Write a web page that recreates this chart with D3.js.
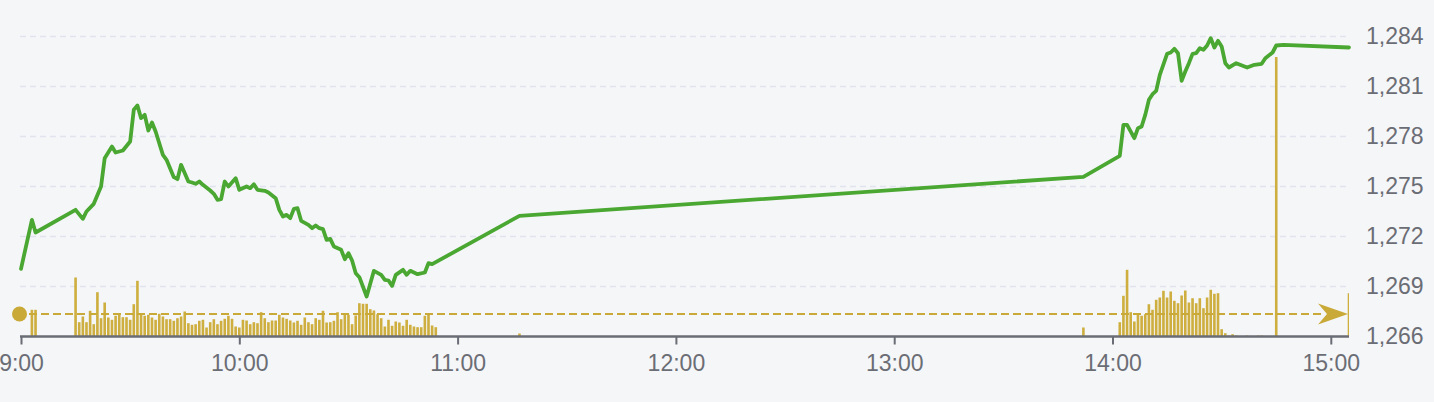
<!DOCTYPE html>
<html>
<head>
<meta charset="utf-8">
<script src="https://cdn.jsdelivr.net/npm/d3@7"></script>
<style>
  html, body { margin: 0; padding: 0; background: #f5f6f8; }
  svg { display: block; }
  text { font-family: "Liberation Sans", Arial, Helvetica, sans-serif; }
</style>
</head>
<body>
<svg id="chart" width="1434" height="402"></svg>
<script>
// ---------------- data ----------------
const priceTimes = [
  "09:00","09:03","09:04","09:15","09:17","09:18","09:20","09:22","09:23","09:25",
  "09:26","09:28","09:30","09:31","09:32","09:33","09:34","09:35","09:36","09:37",
  "09:39","09:40","09:42","09:43","09:44","09:46","09:47","09:48","09:49","09:50",
  "09:52","09:53","09:54","09:55","09:56","09:57","09:59","10:00","10:02","10:03",
  "10:04","10:05","10:07","10:08","10:10","10:11","10:12","10:13","10:14","10:15",
  "10:16","10:17","10:19","10:20","10:21","10:22","10:23","10:24","10:25","10:26",
  "10:28","10:29","10:30","10:31","10:32","10:33","10:35","10:37","10:39","10:40",
  "10:41","10:42","10:43","10:45","10:46","10:47","10:49","10:51","10:52","10:53",
  "11:17","13:52","14:02","14:03","14:04","14:06","14:07","14:08","14:09","14:10",
  "14:11","14:12","14:13","14:15","14:16","14:17","14:18","14:19","14:20","14:21",
  "14:22","14:23","14:24","14:25","14:26","14:27","14:28","14:29","14:30","14:31",
  "14:32","14:34","14:37","14:39","14:41","14:42","14:44","14:45","14:47","15:05"
];
const priceValues = [
  1270.06,1273.00,1272.24,1273.60,1273.06,1273.50,1273.96,1275.00,1276.70,1277.40,
  1277.04,1277.16,1277.70,1279.60,1279.86,1279.10,1279.30,1278.36,1278.84,1278.30,
  1276.90,1276.60,1275.56,1275.44,1276.30,1275.30,1275.24,1275.16,1275.30,1275.10,
  1274.76,1274.56,1274.20,1274.24,1275.30,1275.00,1275.50,1274.80,1275.00,1274.90,
  1275.14,1274.80,1274.74,1274.64,1274.30,1273.60,1273.20,1273.30,1273.10,1273.66,
  1273.70,1272.94,1272.70,1272.50,1272.66,1272.50,1272.44,1271.80,1271.86,1271.40,
  1271.20,1270.64,1271.00,1270.56,1269.80,1269.56,1268.40,1269.94,1269.70,1269.40,
  1269.36,1269.04,1269.70,1270.00,1269.70,1269.94,1269.74,1269.84,1270.40,1270.34,
  1273.24,1275.58,1276.84,1278.70,1278.70,1277.90,1278.50,1278.60,1279.30,1280.20,
  1280.54,1280.74,1281.70,1282.96,1283.04,1283.26,1283.00,1281.34,1281.90,1282.40,
  1282.96,1283.00,1283.30,1283.20,1283.46,1283.90,1283.34,1283.74,1283.40,1282.40,
  1282.14,1282.40,1282.14,1282.30,1282.36,1282.70,1283.04,1283.46,1283.50,1283.34
];

const volumeTimes = [
  "09:03","09:04",
  "09:15","09:16","09:17","09:18","09:19","09:20","09:21","09:22","09:23","09:24",
  "09:25","09:26","09:27","09:28","09:29","09:30","09:31","09:32","09:33","09:34",
  "09:35","09:36","09:37","09:38","09:39","09:40","09:41","09:42","09:43","09:44",
  "09:45","09:46","09:47","09:48","09:49","09:50","09:51","09:52","09:53","09:54",
  "09:55","09:56","09:57","09:58","09:59","10:00","10:01","10:02","10:03","10:04",
  "10:05","10:06","10:07","10:08","10:09","10:10","10:11","10:12","10:13","10:14",
  "10:15","10:16","10:17","10:18","10:19","10:20","10:21","10:22","10:23","10:24",
  "10:25","10:26","10:27","10:28","10:29","10:30","10:31","10:32","10:33","10:34",
  "10:35","10:36","10:37","10:38","10:39","10:40","10:41","10:42","10:43","10:44",
  "10:45","10:46","10:47","10:48","10:49","10:50","10:51","10:52","10:53","10:54",
  "11:17","13:52",
  "14:02","14:03","14:04","14:05","14:06","14:07","14:08","14:09","14:10","14:11",
  "14:12","14:13","14:14","14:15","14:16","14:17","14:18","14:19","14:20","14:21",
  "14:22","14:23","14:24","14:25","14:26","14:27","14:28","14:29","14:30","14:31",
  "14:32","14:33","14:34","14:37","14:40","14:41","14:45","15:05"
];
const volumeValues = [
  267,267,
  590,143,200,143,257,123,443,183,340,190,
  167,207,223,193,193,167,323,557,223,207,
  217,190,167,227,200,173,173,157,183,200,
  250,133,117,123,157,167,90,143,173,123,
  157,177,207,177,100,90,167,160,123,143,
  133,243,183,143,160,160,217,190,177,160,
  140,157,117,190,143,123,183,167,257,140,
  143,157,243,173,217,217,123,210,333,327,
  327,273,260,223,183,100,167,107,150,140,
  107,167,117,100,93,93,207,217,110,93,
  30,90,
  143,407,667,243,150,227,207,223,323,267,
  367,390,457,390,450,357,333,410,460,340,
  383,333,383,283,390,467,427,433,73,33,
  10,23,10,10,10,10,2795,433
];
const averageVolume = 225;

const xTickLabels = ["9:00","10:00","11:00","12:00","13:00","14:00","15:00"];
const yTickValues = [1266,1269,1272,1275,1278,1281,1284];

// ---------------- chart ----------------
const W = 1434, H = 402;
const plotLeft = 21, plotRight = 1349, plotTop = 36.5, plotBottom = 336.5;

const parse = d3.timeParse("%H:%M");
const svg = d3.select("#chart");
svg.append("rect").attr("width", W).attr("height", H).attr("fill", "#f5f6f8");

const x = d3.scaleTime()
  .domain([parse("09:00"), parse("15:05")])
  .range([plotLeft, plotRight]);
const y = d3.scaleLinear()
  .domain([d3.min(yTickValues), d3.max(yTickValues)])
  .range([plotBottom, plotTop]);
const v = d3.scaleLinear()
  .domain([0, 2800])
  .range([plotBottom, plotBottom - 280]);

svg.append("defs").append("clipPath").attr("id", "plotclip")
  .append("rect").attr("x", plotLeft - 2).attr("y", 0)
  .attr("width", plotRight - plotLeft + 2).attr("height", plotBottom);

// grid lines
svg.append("g").selectAll("line")
  .data(yTickValues.filter(d => d !== d3.min(yTickValues)))
  .join("line")
  .attr("x1", plotLeft - 1).attr("x2", plotRight)
  .attr("y1", d => y(d)).attr("y2", d => y(d))
  .attr("stroke", "#e1e4ed").attr("stroke-width", 1.5)
  .attr("stroke-dasharray", "6,4");

// volume bars
const vol = volumeTimes.map((t, i) => ({ t: parse(t), v: volumeValues[i] }));
const bw = 2.6;
svg.append("g").attr("clip-path", "url(#plotclip)")
  .selectAll("rect").data(vol).join("rect")
  .attr("x", d => x(d.t) - bw / 2)
  .attr("y", d => v(d.v))
  .attr("width", bw)
  .attr("height", d => plotBottom - v(d.v))
  .attr("fill", "#cdae3e");

// average volume dashed line with circle and arrow
const gold = "#c9a937";
const ay = v(averageVolume);
svg.append("line")
  .attr("x1", plotLeft + 8).attr("x2", plotRight - 24)
  .attr("y1", ay).attr("y2", ay)
  .attr("stroke", gold).attr("stroke-width", 2)
  .attr("stroke-dasharray", "8,4");
svg.append("circle").attr("cx", plotLeft - 1.5).attr("cy", ay).attr("r", 7.5).attr("fill", gold);
svg.append("path")
  .attr("d", `M${plotRight - 1},${ay} L${plotRight - 31},${ay - 10.5} L${plotRight - 22},${ay} L${plotRight - 31},${ay + 10.5} Z`)
  .attr("fill", gold);

// price line
const price = priceTimes.map((t, i) => ({ t: parse(t), p: priceValues[i] }));
svg.append("path")
  .datum(price)
  .attr("fill", "none")
  .attr("stroke", "#4aa832")
  .attr("stroke-width", 3.8)
  .attr("stroke-linejoin", "round")
  .attr("stroke-linecap", "round")
  .attr("d", d3.line().x(d => x(d.t)).y(d => y(d.p)));

// x axis
const xTicks = xTickLabels.map(s => parse(s.padStart(5, "0")));
const xAxis = d3.axisBottom(x)
  .tickValues(xTicks)
  .tickFormat((d, i) => xTickLabels[i])
  .tickSize(8)
  .tickSizeOuter(0)
  .tickPadding(10);
const gx = svg.append("g").attr("transform", `translate(0,${plotBottom})`).call(xAxis);
gx.select(".domain").attr("stroke", "#6a6d75").attr("stroke-width", 2.5)
  .attr("d", `M${plotLeft - 1},0H${plotRight}`);
gx.selectAll(".tick line").attr("stroke", "#6a6d75").attr("stroke-width", 2);
gx.selectAll(".tick text").attr("fill", "#6b6d75").attr("font-size", 23)
  .attr("font-family", "'Liberation Sans', Arial, sans-serif");

// y axis (right side labels)
const yAxis = d3.axisRight(y)
  .tickValues(yTickValues)
  .tickFormat(d3.format(","))
  .tickSize(0)
  .tickPadding(17);
const gy = svg.append("g").attr("transform", `translate(${plotRight},0)`).call(yAxis);
gy.select(".domain").remove();
gy.selectAll(".tick text").attr("fill", "#6b6d75").attr("font-size", 23)
  .attr("font-family", "'Liberation Sans', Arial, sans-serif");
</script>
</body>
</html>
